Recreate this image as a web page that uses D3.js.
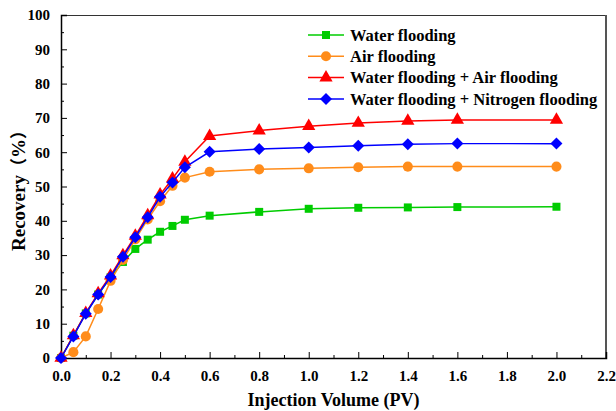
<!DOCTYPE html>
<html>
<head>
<meta charset="utf-8">
<script src="https://cdn.jsdelivr.net/npm/d3@7"></script>
<style>
  body { margin: 0; background: #fff; }
  text { font-family: "Liberation Serif", "Times New Roman", serif; font-weight: bold; }
</style>
</head>
<body>
<div id="chart"></div>
<script>
// Data
var pv = [0, 0.05, 0.1, 0.15, 0.2, 0.25, 0.3, 0.35, 0.4, 0.45, 0.5, 0.6, 0.8, 1.0, 1.2, 1.4, 1.6, 2.0];
var waterFlooding = [0, 6.5, 13, 18.5, 23.5, 28, 31.8, 34.5, 36.8, 38.5, 40.3, 41.5, 42.6, 43.5, 43.8, 43.9, 44.0, 44.1];
var airFlooding = [0, 1.7, 6.3, 14.3, 22.5, 28.6, 34.6, 40.4, 45.7, 50.2, 52.6, 54.3, 55.0, 55.3, 55.6, 55.8, 55.8, 55.8];
var waterAir = [0, 6.6, 13.1, 18.8, 24.0, 29.9, 35.6, 41.6, 47.6, 52.3, 57.2, 64.7, 66.3, 67.6, 68.5, 69.1, 69.4, 69.4];
var waterNitrogen = [0, 6.3, 12.9, 18.5, 23.6, 29.5, 35.2, 41.0, 47.0, 51.2, 55.6, 60.1, 60.9, 61.4, 61.9, 62.3, 62.5, 62.5];
var seriesNames = ["Water flooding", "Air flooding", "Water flooding + Air flooding", "Water flooding + Nitrogen flooding"];
var xTicks = [0, 0.2, 0.4, 0.6, 0.8, 1.0, 1.2, 1.4, 1.6, 1.8, 2.0, 2.2];
var yTicks = [0, 10, 20, 30, 40, 50, 60, 70, 80, 90, 100];

var svgWidth = 616;
var svgHeight = 411;
var margin = { top: 15, right: 10, bottom: 53, left: 61 };
var width = svgWidth - margin.left - margin.right;
var height = svgHeight - margin.top - margin.bottom;

var svg = d3.select("#chart")
  .append("svg")
  .attr("width", svgWidth)
  .attr("height", svgHeight);

var chartGroup = svg.append("g")
  .attr("transform", `translate(${margin.left}, ${margin.top})`);

var xScale = d3.scaleLinear().domain([0, 2.2]).range([0, width]);
var yScale = d3.scaleLinear().domain([0, 100]).range([height, 0]);

// frame: top and right borders
chartGroup.append("line")
  .attr("x1", 0).attr("x2", width).attr("y1", 0.5).attr("y2", 0.5)
  .attr("stroke", "#333").attr("stroke-width", 1);
chartGroup.append("line")
  .attr("x1", width).attr("x2", width).attr("y1", 0).attr("y2", height)
  .attr("stroke", "#555").attr("stroke-width", 2);

// minor ticks
chartGroup.append("g")
  .attr("transform", `translate(0, ${height})`)
  .call(d3.axisBottom(xScale).tickValues(d3.range(0.1, 2.2, 0.2)).tickSize(-3).tickFormat(""))
  .call(g => g.select(".domain").remove());
chartGroup.append("g")
  .call(d3.axisLeft(yScale).tickValues(d3.range(5, 100, 10)).tickSize(-3).tickFormat(""))
  .call(g => g.select(".domain").remove());

// major axes
var xAxis = chartGroup.append("g")
  .attr("transform", `translate(0, ${height})`)
  .call(d3.axisBottom(xScale).tickValues(xTicks).tickSize(-6).tickPadding(10).tickFormat(d3.format(".1f")));
var yAxis = chartGroup.append("g")
  .call(d3.axisLeft(yScale).tickValues(yTicks).tickSize(-6).tickPadding(11).tickFormat(d3.format("d")));

[xAxis, yAxis].forEach(function(ax) {
  ax.select(".domain").attr("stroke-width", 1.5);
  ax.selectAll("text")
    .attr("font-size", 15)
    .attr("font-family", "Liberation Serif, serif")
    .attr("font-weight", "bold")
    .attr("fill", "#000");
});
xAxis.selectAll("text").attr("dy", "0.85em");
xAxis.selectAll(".tick").filter(d => d === 0).select("line").remove();
yAxis.selectAll(".tick").filter(d => d === 0).select("line").remove();

// series
var seriesData = [waterFlooding, airFlooding, waterAir, waterNitrogen];
var colors = ["#00cc00", "#ff8c1a", "#ff0000", "#0000ff"];
var shapes = [d3.symbolSquare, d3.symbolCircle, d3.symbolTriangle, d3.symbolSquare];
var sizes = [64, 80, 76, 72];
var rotations = [0, 0, 0, 45];

var line = d3.line()
  .x(d => xScale(d[0]))
  .y(d => yScale(d[1]));

seriesData.forEach(function(vals, i) {
  var pts = pv.map((x, j) => [x, vals[j]]);
  chartGroup.append("path")
    .datum(pts)
    .attr("fill", "none")
    .attr("stroke", colors[i])
    .attr("stroke-width", 1.5)
    .attr("d", line);
  chartGroup.append("g")
    .selectAll("path")
    .data(pts)
    .enter()
    .append("path")
    .attr("transform", d => `translate(${xScale(d[0])},${yScale(d[1])}) rotate(${rotations[i]})`)
    .attr("d", d3.symbol().type(shapes[i]).size(sizes[i]))
    .attr("fill", colors[i]);
});

// legend
var legend = svg.append("g").attr("transform", "translate(308, 35)");
seriesNames.forEach(function(name, i) {
  var row = legend.append("g").attr("transform", `translate(0, ${i * 21.3})`);
  row.append("line")
    .attr("x1", 0).attr("x2", 36).attr("y1", 0).attr("y2", 0)
    .attr("stroke", colors[i]).attr("stroke-width", 1.5);
  row.append("path")
    .attr("transform", `translate(18,0) rotate(${rotations[i]})`)
    .attr("d", d3.symbol().type(shapes[i]).size(sizes[i]))
    .attr("fill", colors[i]);
  row.append("text")
    .attr("x", 42)
    .attr("y", 0)
    .attr("dy", "0.35em")
    .attr("font-size", 16.5)
    .text(name);
});

// axis titles
svg.append("text")
  .attr("transform", `translate(${margin.left + xScale(1.1)}, 406)`)
  .attr("text-anchor", "middle")
  .attr("font-size", 18)
  .text("Injection Volume (PV)");

var yTitle = svg.append("text")
  .attr("transform", `translate(25, ${margin.top + yScale(50)}) rotate(-90)`)
  .attr("text-anchor", "middle")
  .attr("font-size", 19);
yTitle.append("tspan").text("Recovery");
yTitle.append("tspan").attr("font-family", "Noto Sans CJK SC").attr("font-size", 17).text("（");
yTitle.append("tspan").text("%");
yTitle.append("tspan").attr("font-family", "Noto Sans CJK SC").attr("font-size", 17).text("）");
</script>
</body>
</html>
